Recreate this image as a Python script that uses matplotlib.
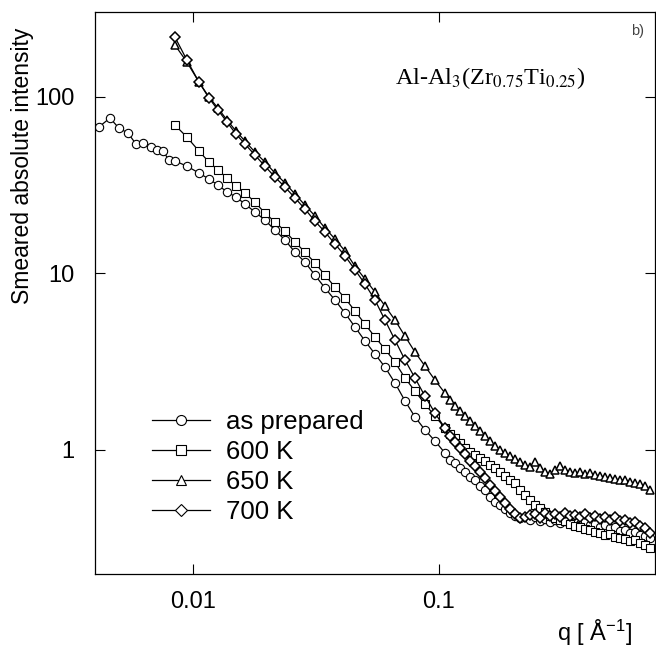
import matplotlib
matplotlib.use('Agg')
import matplotlib.pyplot as plt

plt.rcParams['font.family'] = ['Liberation Sans', 'DejaVu Sans']
plt.rcParams['mathtext.fontset'] = 'custom'
plt.rcParams['mathtext.rm'] = 'Liberation Sans'
plt.rcParams['mathtext.it'] = 'Liberation Sans'

# q values [1/A]
q_low = [0.00415, 0.00460, 0.00500, 0.00544, 0.00587, 0.00626, 0.00675,
         0.00714, 0.00755, 0.00799]
q_main = [0.00845, 0.00945, 0.01058, 0.01162, 0.01264, 0.01375, 0.01496, 0.01627,
          0.01786, 0.01962, 0.02155, 0.02366, 0.02599, 0.02854, 0.03133, 0.03441,
          0.03778, 0.04150, 0.04557, 0.05004, 0.05495, 0.06034, 0.06626, 0.07276,
          0.07990, 0.08774, 0.09634, 0.1058,
          0.1110, 0.1162, 0.1218, 0.1276, 0.1337, 0.1401, 0.1468, 0.1538, 0.1612,
          0.1690, 0.1770, 0.1855, 0.1944, 0.2037, 0.2134, 0.2237, 0.2344, 0.2456,
          0.2574, 0.2697, 0.2826, 0.2962, 0.3103, 0.3252, 0.3408, 0.3571, 0.3742,
          0.3921, 0.4109, 0.4306, 0.4512, 0.4728, 0.4954, 0.5192, 0.5440, 0.5701,
          0.5974, 0.6260, 0.6560, 0.6874, 0.7203]

# smeared absolute intensity
i_prepared_low = [67.6, 76.0, 66.7, 62.5, 54.2, 54.9, 52.1, 50.1, 49.4, 44.0]
i_prepared = [43.4, 40.6, 37.1, 34.3, 31.7, 29.0, 27.1, 24.8, 22.3, 20.1, 17.6, 15.5,
              13.2, 11.6, 9.80, 8.28, 7.08, 5.97, 4.98, 4.15, 3.50, 2.95, 2.40, 1.90,
              1.54, 1.30, 1.125, 0.962,
              0.878, 0.844, 0.791, 0.750, 0.703, 0.676, 0.625, 0.593, 0.542, 0.507,
              0.488, 0.463, 0.440, 0.423, 0.412, 0.417, 0.401, 0.417, 0.396, 0.406,
              0.391, 0.401, 0.386, 0.396, 0.381, 0.391, 0.381, 0.396, 0.376, 0.381,
              0.366, 0.376, 0.361, 0.366, 0.348, 0.352, 0.339, 0.343, 0.330, 0.326,
              0.317]
i_600 = [69.4, 59.3, 49.4, 42.8, 38.6, 34.8, 31.3, 28.6, 25.4, 22.0, 19.6, 17.4,
         15.1, 13.2, 11.5, 9.80, 8.38, 7.26, 6.13, 5.17, 4.37, 3.73, 3.15, 2.56,
         2.16, 1.82, 1.558, 1.332,
         1.232, 1.170, 1.096, 1.026, 0.974, 0.937, 0.901, 0.866, 0.822, 0.791,
         0.750, 0.712, 0.676, 0.650, 0.593, 0.556, 0.521, 0.488, 0.469, 0.445,
         0.423, 0.412, 0.401, 0.396, 0.381, 0.371, 0.366, 0.357, 0.352, 0.343,
         0.339, 0.330, 0.334, 0.321, 0.317, 0.313, 0.305, 0.309, 0.297, 0.290,
         0.279]
i_650 = [197.1, 157.9, 121.6, 100.0, 86.6, 74.1, 64.2, 56.3, 48.8, 42.8, 37.1, 32.6,
         28.2, 24.4, 21.2, 18.1, 15.7, 13.4, 11.0, 9.31, 7.86, 6.55, 5.45, 4.42,
         3.59, 2.99, 2.49, 2.10,
         1.92, 1.776, 1.663, 1.558, 1.460, 1.368, 1.281, 1.200, 1.125, 1.054,
         1.000, 0.962, 0.925, 0.889, 0.855, 0.822, 0.801, 0.855, 0.791, 0.750,
         0.731, 0.770, 0.812, 0.770, 0.750, 0.741, 0.750, 0.731, 0.741, 0.722,
         0.712, 0.703, 0.694, 0.685, 0.676, 0.676, 0.659, 0.650, 0.642, 0.625,
         0.593]
i_700 = [218.8, 162.0, 121.6, 98.7, 84.4, 72.2, 61.7, 54.2, 46.9, 40.6, 35.2, 30.9,
         26.8, 23.2, 19.8, 17.2, 14.7, 12.6, 10.5, 8.72, 7.08, 5.45, 4.20, 3.24,
         2.56, 2.02, 1.620, 1.332,
         1.200, 1.110, 1.026, 0.949, 0.866, 0.812, 0.750, 0.694, 0.633, 0.586,
         0.542, 0.501, 0.463, 0.434, 0.412, 0.417, 0.428, 0.434, 0.412, 0.440,
         0.423, 0.434, 0.417, 0.440, 0.423, 0.428, 0.417, 0.434, 0.412, 0.423,
         0.406, 0.417, 0.401, 0.417, 0.396, 0.401, 0.386, 0.391, 0.371, 0.361,
         0.339]

labels = ['as prepared', '600 K', '650 K', '700 K']
markers = ['o', 's', '^', 'D']

fig = plt.figure(figsize=(6.56, 6.49), dpi=100)
ax = fig.add_axes([0.1448, 0.1156, 0.8544, 0.8659])

series = [(q_low + q_main, i_prepared_low + i_prepared),
          (q_main, i_600), (q_main, i_650), (q_main, i_700)]
for (q, inten), lab, m in zip(series, labels, markers):
    ms = 5.2 if m == 'D' else 6.0
    mew = 1.1 if m in ('D', '^') else 0.8
    ax.plot(q, inten, color='black', lw=0.9, marker=m, ms=ms,
            mfc='white', mec='black', mew=mew, label=lab)

ax.set_xscale('log')
ax.set_yscale('log')
ax.set_xlim(0.0040, 0.759)
ax.set_ylim(0.1984, 303)
ax.set_xticks([0.01, 0.1])
ax.set_xticklabels(['0.01', '0.1'])
ax.set_yticks([1, 10, 100])
ax.set_yticklabels(['1', '10', '100'])
ax.minorticks_off()
ax.tick_params(which='major', direction='in', length=7, width=0.8,
               top=True, right=True, labelsize=17)
ax.tick_params(axis='x', pad=12)
ax.tick_params(axis='y', pad=15)
for s in ax.spines.values():
    s.set_linewidth(0.9)

fig.text(23 / 656, 1 - 166 / 649, 'Smeared absolute intensity', rotation=90,
         ha='center', va='center', fontsize=16.5)
fig.text(557 / 656, 8 / 649, 'q [ Å$^{-1}$]', ha='left', va='baseline', fontsize=17)
fig.text(395 / 656, 1 - 84 / 649, 'Al-Al$_3$(Zr$_{0.75}$Ti$_{0.25}$)',
         ha='left', va='baseline', fontsize=17.5,
         family=['Liberation Serif', 'DejaVu Serif'], math_fontfamily='stix')
fig.text(638 / 656, 1 - 31 / 649, 'b)', ha='center', va='center', fontsize=10.5,
         color='#444444')

leg = ax.legend(loc='center left', bbox_to_anchor=(0.078, 0.190), frameon=False,
                fontsize=18.5, borderpad=0, handlelength=2.28, handletextpad=0.6,
                labelspacing=0.24, markerscale=1.2)
for h in leg.legend_handles:
    h.set_markeredgewidth(0.8)

fig.savefig('out.png', dpi=100)
